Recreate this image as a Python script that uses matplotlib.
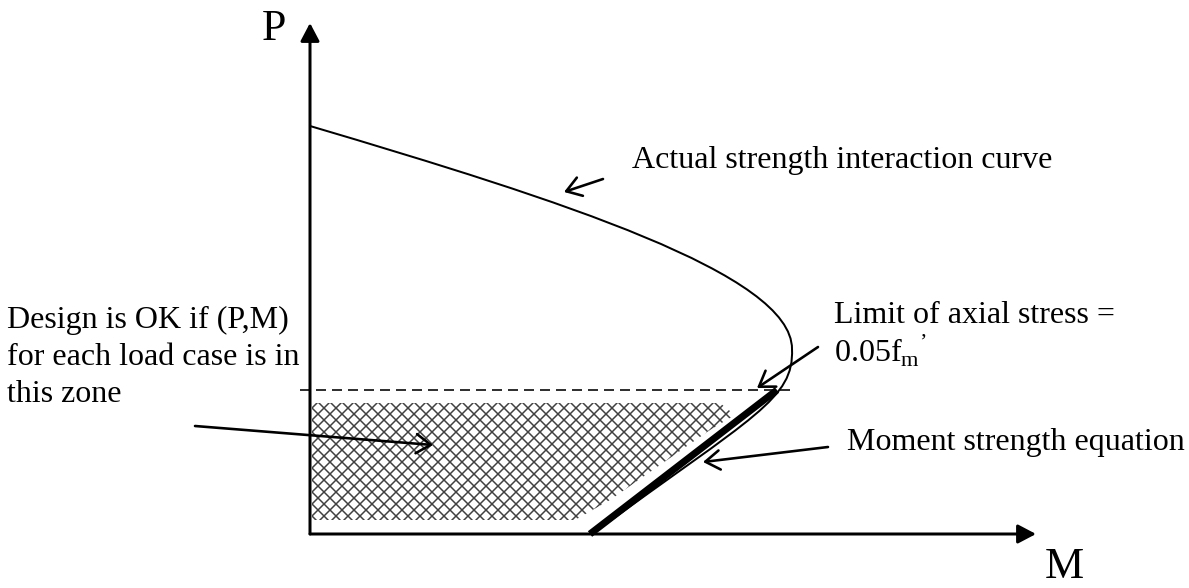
import matplotlib
matplotlib.use('Agg')
import matplotlib.pyplot as plt
from matplotlib.patches import Polygon, PathPatch
from matplotlib.path import Path

plt.rcParams['font.family'] = ['Liberation Serif', 'DejaVu Serif']
plt.rcParams['mathtext.fontset'] = 'custom'
plt.rcParams['mathtext.rm'] = 'Liberation Serif'
plt.rcParams['hatch.color'] = '#404040'
plt.rcParams['hatch.linewidth'] = 0.75

# interaction curve (M, P) as two cubic pieces: start, ctrl, ctrl, nose, ctrl, ctrl, end
curve_m = [0, 250, 482, 482, 484, 445, 282]
curve_p = [408, 334, 260, 185, 135, 119, 0]

# moment strength equation (straight line)
moment_m = [280, 467]
moment_p = [0, 144]

# axial stress limit
limit_p = 144
limit_m = [-10, 480]

# OK zone outline
zone_m = [2, 410, 425, 400, 350, 300, 265, 2]
zone_p = [131, 131, 119, 104, 69, 34, 14, 14]

axis_m_end = 726
axis_p_end = 511

fig = plt.figure(figsize=(1189 / 144, 588 / 144), dpi=144)
ax = fig.add_axes([0, 0, 1, 1])
ax.set_xlim(-310, 879)
ax.set_ylim(-54, 534)
ax.axis('off')

# hatched zone
zone = Polygon(list(zip(zone_m, zone_p)), closed=True, facecolor='white',
               edgecolor='#404040', hatch='xxxx', lw=0)
ax.add_patch(zone)

# axes with arrows
axis_kw = dict(arrowstyle='-|>,head_length=0.38,head_width=0.2',
               mutation_scale=20, lw=1.5, color='k', shrinkA=0, shrinkB=0)
ax.annotate('', xy=(axis_m_end, 0), xytext=(0, 0), arrowprops=axis_kw)
ax.annotate('', xy=(0, axis_p_end), xytext=(0, 0), arrowprops=axis_kw)

codes = [Path.MOVETO] + [Path.CURVE4] * 6
curve = PathPatch(Path(list(zip(curve_m, curve_p)), codes), facecolor='none',
                  edgecolor='k', lw=1.0)
ax.add_patch(curve)
ax.plot(moment_m, moment_p, color='k', lw=3.5, solid_capstyle='butt')
ax.plot(limit_m, [limit_p, limit_p], color='k', lw=0.8, linestyle=(0, (6.25, 3.75)))

# labels
ax.text(-48, 494, 'P', fontsize=22, va='baseline', ha='left')
ax.text(735, -44, 'M', fontsize=22, va='baseline', ha='left')

fs = 16
ax.text(322, 366, 'Actual strength interaction curve', fontsize=fs, va='baseline')
ax.text(524, 211, 'Limit of axial stress =', fontsize=fs, va='baseline')
ax.text(524, 172, r'0.05f$_{\mathrm{m}}$$^{\mathrm{’}}$', fontsize=fs, va='baseline')
ax.text(537, 84, 'Moment strength equation', fontsize=fs, va='baseline')
ax.text(-303, 206, 'Design is OK if (P,M)', fontsize=fs, va='baseline')
ax.text(-303, 169, 'for each load case is in', fontsize=fs, va='baseline')
ax.text(-303, 132, 'this zone', fontsize=fs, va='baseline')

# pointer arrows
arrow_kw = dict(arrowstyle='->,head_length=0.45,head_width=0.3',
                mutation_scale=16, lw=1.3, color='k', shrinkA=0, shrinkB=0)
ax.annotate('', xy=(254, 342), xytext=(293, 355), arrowprops=arrow_kw)
ax.annotate('', xy=(447, 146), xytext=(508, 187), arrowprops=arrow_kw)
ax.annotate('', xy=(393, 72), xytext=(518, 87), arrowprops=arrow_kw)
ax.annotate('', xy=(123, 89), xytext=(-115, 108), arrowprops=arrow_kw)

fig.savefig('out.png', dpi=144)
